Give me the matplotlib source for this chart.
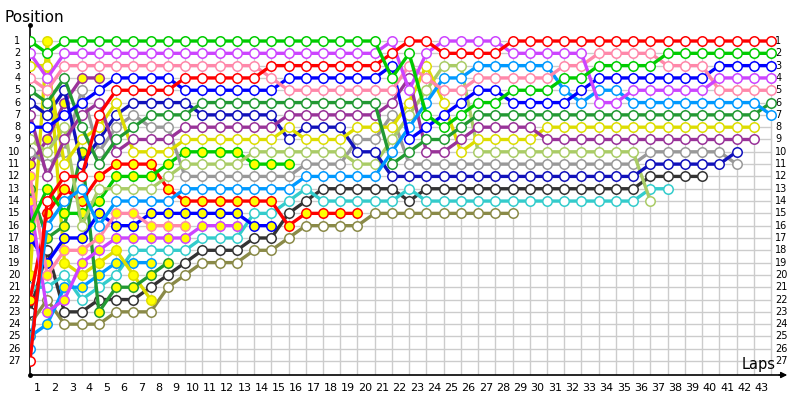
import matplotlib
matplotlib.use("Agg")
import matplotlib.pyplot as plt

# lap chart: position of every car at the end of each lap (lap 0 = grid)
laps_total = 43
positions = list(range(1, 28))

# white-filled markers
green   = [1,2,1,1,1,1,1,1,1, 1,1,1,1,1,1,1,1,1,1,1,1, 4,2,7,8,7,6,6,5,5,5,4,4,3,3,3,3, 2,2,2,2,2,2,2]
violet  = [2,4,2,2,2,2,2,2,2, 2,2,2,2,2,2,2,2,2,2,2,2, 1,5,2,1,1,1,1, 2,2,2,2,2, 6,6, 5,5,5,5,5, 4,4,4,4]
pink    = [4,5,3,3,3,3,3,3,3, 3,3,3,3,3, 4, 5,5,5,5,5,5,5, 3,4,5,5, 4,4,4,4,4, 3,3, 2,2,2,2, 3,3,3, 5,5,5,5]
red     = [27,14,12,12,7,5,5,5,5, 4,4,4,4,4, 3,3,3,3,3,3,3, 2,1,1, 2,2,2,2, 1,1,1,1,1,1,1,1,1,1,1,1,1,1,1,1]
blue    = [8,8,7,6,5,4,4,4,4, 5,5,5,5,5,5, 4,4,4,4,4,4, 3,9,8,7,6,5,5, 6,6,6,6, 5, 4,4,4,4,4,4,4, 3,3,3,3]
navy    = [6,7,5,11,9,7,6,6,6, 6, 7,7,7,7,7, 9, 8,8,8, 10,10, 12,12,12,12,12,12,12,12,12,12,12,12,12,12,12, 11,11,11,11,11, 10]
dkgreen = [5,6,4,8,11,9,8,7,7, 7, 6,6,6,6,6,6,6,6,6,6,6, 11,10,9,9,8, 7,7,7,7,7,7,7,7,7,7,7,7,7,7,7,7,7, 6]
purple  = [7,12,9,7,6,10,9,9,9, 8,8,8,8,8,8, 7,7,7,7,7,7, 6,4,10,10,9, 8,8,8,8, 9,9,9,9,9,9,9,9,9,9,9,9,9]
yellow  = [3,3,11,9,8,6,10,10,10, 9,9,9,9,9,9, 8, 9,9,9, 8,8,8, 6,3,6,10, 9,9,9,9, 8,8,8,8,8,8,8,8,8,8,8,8,8]
ltgreen = [9,10,8,16,13,13,13,13,12, 11,11,11,11, 10,10,10,10,10,10, 11,11, 9,7,5,3,3, 10,10,10,10,10,10,10,10,10,10, 14]
gray    = [10,11,10,5,10,8,7,8,8, 12,12,12,12,12,12,12, 11,11,11, 9,9, 7, 11,11,11,11,11,11,11,11,11,11,11,11,11,11, 10,10,10,10,10, 11]
ltblue  = [26,16,14,13,16,14,14,14,14, 13,13,13,13,13,13,13, 12,12,12,12,12, 10,8,6,4,4, 3,3,3,3,3, 5,6,5,5, 6,6,6,6,6,6,6,6, 7]
cyan    = [21,21,20,22,21,20,18,18,18, 18, 17,17,17, 15,15, 14, 13, 14,14,14,14,14, 13, 14,14,14,14,14,14,14,14,14,14,14,14,14, 13,13]
black   = [23,18,23,23,22,22,22,21,20, 19, 18,18,18, 17,17, 15, 14, 13,13,13,13,13, 14, 13,13,13,13,13,13,13,13,13,13,13,13,13, 12,12,12,12]
olive   = [24,22,24,24,24,23,23,23,21, 20, 19,19,19, 18,18, 17, 16,16,16,16, 15,15,15,15,15,15,15,15,15]

# yellow-filled markers (second cars)
purple_2  = [11,9,6,4,4]
pink_2    = [12,20,18,18,17,15,15,16,16,16]
dkgreen_2 = [13,17,16,10,23,21,21,20,19]
violet_2  = [14,23,22,19,18,17,17,17,17,17,16,16,16]
green_2   = [16,13,15,15,14,12,12,12,11,10,10,10,10,11,11,11]
blue_2    = [17,19,17,17,15,16,16,15,15,15,15,15,15,16,16]
yellow_2  = [20,1,19,20,19,18,20,22]
red_2     = [22,15,13,14,12,11,11,11,13,14,14,14,14,14,14,16,15,15,15,15]
ltblue_2  = [25,24,21,21,20,19,19,19]

cars = [
    (olive, '#8a8a48', 'white'), (black, '#333333', 'white'), (cyan, '#33cccc', 'white'),
    (ltblue_2, '#0099ff', '#ffff00'), (yellow_2, '#dddd00', '#ffff00'), (dkgreen_2, '#229933', '#ffff00'),
    (red_2, '#ff0000', '#ffff00'), (blue_2, '#0000ff', '#ffff00'), (violet_2, '#cc44ff', '#ffff00'),
    (pink_2, '#ff88aa', '#ffff00'), (green_2, '#00cc00', '#ffff00'), (purple_2, '#993399', '#ffff00'),
    (gray, '#999999', 'white'), (ltgreen, '#aacc66', 'white'), (navy, '#1111bb', 'white'),
    (yellow, '#dddd00', 'white'), (purple, '#993399', 'white'), (dkgreen, '#229933', 'white'),
    (ltblue, '#0099ff', 'white'), (blue, '#0000ff', 'white'), (pink, '#ff88aa', 'white'),
    (violet, '#cc44ff', 'white'), (red, '#ff0000', 'white'), (green, '#00cc00', 'white'),
]

fig = plt.figure(figsize=(8, 4), dpi=100)
ax = fig.add_axes([30/800, 25/400, 760/800, 350/400])
ymax, ymin = 28.13, -0.3
ax.set_xlim(0, 44.1)
ax.set_ylim(ymax, ymin)
ax.axis('off')

# grid
for lap in range(1, laps_total + 1):
    ax.plot([lap, lap], [0.65, ymax], color='#cccccc', lw=1, zorder=0)
for p in positions:
    ax.plot([0, laps_total], [p, p], color='#cccccc', lw=1, zorder=0)

# axes lines
ax.plot([0, 0], [ymax, ymin], color='black', lw=1.2, zorder=1, clip_on=False)
ax.plot([0, 43.6], [ymax, ymax], color='black', lw=1.2, zorder=1, clip_on=False)
ax.annotate('', xy=(44.1, ymax), xytext=(43.3, ymax), annotation_clip=False,
            arrowprops=dict(arrowstyle='-|>', color='black', lw=1, mutation_scale=9))
ax.plot([0, 0], [ymin, ymax], 'o', color='black', ms=2.5, clip_on=False)

for i, (pos, col, face) in enumerate(cars):
    ax.plot(range(len(pos)), pos, color=col, lw=2.4, marker='o', ms=6.8,
            mfc=face, mec=col, mew=1.1, zorder=2 + i, solid_joinstyle='miter')

for p in positions:
    ax.text(-0.55, p, str(p), ha='right', va='center', fontsize=7, clip_on=False)
    ax.text(43.25, p, str(p), ha='left', va='center', fontsize=7, clip_on=False)
for lap in range(1, laps_total + 1):
    ax.text(lap - 0.55, 29.2, str(lap), ha='center', va='center', fontsize=8, clip_on=False)

fig.text(4/800, 1 - 22/400, 'Position', fontsize=11, va='baseline')
fig.text(776/800, 1 - 369/400, 'Laps', fontsize=10.5, ha='right', va='baseline')

fig.savefig('out.png', dpi=100)
